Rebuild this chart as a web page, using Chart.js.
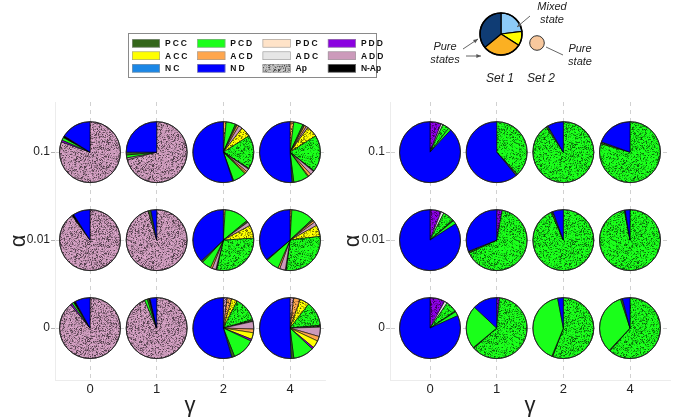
<!DOCTYPE html>
<html><head><meta charset="utf-8">
<script src="https://cdn.jsdelivr.net/npm/chart.js@4.4.1/dist/chart.umd.min.js"></script>
<style>
html,body{margin:0;padding:0;background:#fff;}
#wrap{position:relative;width:675px;height:419px;overflow:hidden;}
canvas{position:absolute;left:0;top:0;}
</style></head><body>
<div id="wrap"><canvas id="c1" width="675" height="419"></canvas><canvas id="c2" width="675" height="419"></canvas></div>
<script>
// ---------- axis labels ----------
const gammaLabels = ['0', '1', '2', '4'];
const alphaLabels = ['0', '0.01', '0.1'];   // bottom -> top

// ---------- slice order (clockwise from 12 o'clock) ----------
const sliceCats = ['PDD','ADD','ACD','PCD','PCC','ACD','ADD','ACC','ADC','PCD','PCC','ADD','ACD','ACC','PDD','PCD','PCC','N-Ap','ND'];
const sliceAp   = [1, 1, 1, 0, 0, 0, 0, 1, 0, 1, 1, 0, 0, 0, 0, 0, 0, 0, 0];

// ---------- legend ----------
const legendLabels = ['PCC','ACC','NC','PCD','ACD','ND','PDC','ADC','Ap','PDD','ADD','N-Ap'];
const catColors = {
  PCC: '#33661a', ACC: '#ffff00', NC: '#1b87e6', PCD: '#1aff1a', ACD: '#ffa64d', ND: '#0000ff',
  PDC: '#ffe3c8', ADC: '#e6e6e6', Ap: '#bdbdbd', PDD: '#8a00e0', ADD: '#cc9abb', 'N-Ap': '#000000'
};

// ---------- Set 1 (left panel), percentages per pie, gamma = 0,1,2,4 ----------
const set1_alpha01 = [
  [0,80.5,0,0,0,0,0,0,0,0,0,0,0,0,1,1.5,0,1,16],
  [0,71,0,0,0,0,0,0,0,0,0,1,0,0,0,1.5,1.5,0,25],
  [0,0,1.5,5,1,1,2,5.5,0,18,0.5,1.5,1,0.5,0,7,0.5,0,55],
  [0,0,2,5,1,1,1,6,0,19.5,0.5,2,1.5,0.5,0,8,1,0,51]
];
const set1_alpha001 = [
  [0,90,0,0,0,0,0,0,0,0,0,0,0,0,0,0,0,1,9],
  [0,95.5,0,0,0,0,0,0,0,0,0,0,0,0,0,0,1.5,0,3],
  [0,0,1,13,1,0,2,7,0,29.5,0.5,2,1,0,0,5,1,0,37],
  [0,0,1,12,1,1,2,6,0,29,0.5,3,1,0,0,7,0.5,0,36]
];
const set1_alpha0 = [
  [0,89,0,0,0,0,0,0,0,0,0,0,0,0,1,1,0,1,8],
  [0,93.5,0,0,0,0,0,0,0,0,0,0,0,0,0,1.5,1,0.5,3.5],
  [0,2,2.5,0,0,0,0,3,0,13,1,4,2,3.5,1,12,1.5,0,54.5],
  [0,2,3.5,0,0,0,0,5,0,13,1,5,2.5,4,1,11,1.5,0,50.5]
];
// ---------- Set 2 (right panel) ----------
const set2_alpha01 = [
  [6,0,0,0,0,0,0,0,1,3.5,0,0,0,0,0,1.5,0,0,88],
  [0,0,0,0,0,0,0,0,0,38,1,0,0,0,0,0,0,0,61],
  [0,0,0,0,0,0,0,0,0,90.5,1,0,0,0,0,0,0,0,8.5],
  [0,0,0,0,0,0,0,0,0,79.5,1,0,0,0,0,0,0,0,19.5]
];
const set2_alpha001 = [
  [6,0,0,0,0,0,0,0,1.5,6,0.5,0,0,0,0,2,0,0,84],
  [3,0,0,0,0,0,0,0,0,65,1,0,0,0,0,0,0,0,31],
  [0,0,0,0,0,0,0,0,0,93.5,1,0,0,0,0,0,0,0,5.5],
  [0,0,0,0,0,0,0,0,0,97,0.5,0,0,0,0,0,0,0,2.5]
];
const set2_alpha0 = [
  [8,0,0,0,0,0,0,0,1.5,6,0.5,0,0,0,0,2.3,0,0,81.7],
  [1.5,0,0,0,0,0,0,0,0,62,0.5,0,0,0,0,23,0,0,13],
  [0,0,0,0,0,0,0,0,0,55.7,0.5,0,0,0,0,40.8,0,0,3],
  [0,0,0,0,0,0,0,0,0,61.5,0.5,0,0,0,0,33,1,0,4]
];

// ---------- inset illustration ----------
const insetSet1 = [23, 11, 30, 36];
const insetColors = ['#8ccaf7', '#ffff00', '#fbb022', '#0f3c74'];

// ---------- speckle (Ap) texture ----------
const patternCache = {};
function speckle(ctx, base) {
  if (patternCache[base]) return patternCache[base];
  const c = document.createElement('canvas'); c.width = c.height = 97;
  const g = c.getContext('2d');
  g.fillStyle = base; g.fillRect(0, 0, 97, 97);
  const img = g.getImageData(0, 0, 97, 97), d = img.data;
  let s = 2463534242;
  const rnd = () => { s ^= s << 13; s >>>= 0; s ^= s >>> 17; s ^= s << 5; s >>>= 0; return s / 4294967296; };
  for (let i = 0; i < d.length; i += 4) {
    const r = rnd();
    let f = 1;
    if (r < 0.2) f = 0.35 + rnd() * 0.3;
    else if (r < 0.45) f = 0.72 + rnd() * 0.15;
    else if (r < 0.55) f = 1.1;
    d[i] = Math.min(255, d[i] * f); d[i+1] = Math.min(255, d[i+1] * f); d[i+2] = Math.min(255, d[i+2] * f);
  }
  g.putImageData(img, 0, 0);
  patternCache[base] = ctx.createPattern(c, 'repeat');
  return patternCache[base];
}

function drawPie(ctx, cx, cy, r, vals) {
  const total = vals.reduce((a, b) => a + b, 0);
  let a = -Math.PI / 2;
  ctx.save();
  ctx.lineJoin = 'round';
  vals.forEach((v, k) => {
    if (v <= 0) return;
    const a1 = a + v / total * Math.PI * 2;
    const col = catColors[sliceCats[k]];
    ctx.beginPath(); ctx.moveTo(cx, cy); ctx.arc(cx, cy, r, a, a1); ctx.closePath();
    ctx.fillStyle = sliceAp[k] ? speckle(ctx, col) : col;
    ctx.fill();
    ctx.strokeStyle = '#000'; ctx.lineWidth = 0.6; ctx.stroke();
    a = a1;
  });
  ctx.beginPath(); ctx.arc(cx, cy, r, 0, Math.PI * 2);
  ctx.strokeStyle = '#222'; ctx.lineWidth = 0.9; ctx.stroke();
  ctx.restore();
}

const piePlugin = {
  id: 'pies',
  afterDatasetsDraw(chart) {
    const ctx = chart.ctx, xs = chart.scales.x;
    const r = 0.457 * Math.abs(xs.getPixelForValue(1) - xs.getPixelForValue(0));
    chart.data.datasets.forEach((ds, di) => {
      chart.getDatasetMeta(di).data.forEach((pt, i) => drawPie(ctx, pt.x, pt.y, r, ds.pies[i]));
    });
  }
};

function arrow(ctx, x0, y0, x1, y1, head) {
  ctx.beginPath(); ctx.moveTo(x0, y0); ctx.lineTo(x1, y1); ctx.stroke();
  if (!head) return;
  const ang = Math.atan2(y1 - y0, x1 - x0), h = 5;
  ctx.beginPath();
  ctx.moveTo(x1, y1);
  ctx.lineTo(x1 - h * Math.cos(ang - 0.4), y1 - h * Math.sin(ang - 0.4));
  ctx.lineTo(x1 - h * Math.cos(ang + 0.4), y1 - h * Math.sin(ang + 0.4));
  ctx.closePath(); ctx.fill();
}

const decorPlugin = {
  id: 'decor',
  afterDraw(chart) {
    const ctx = chart.ctx;
    ctx.save();
    // legend box
    ctx.strokeStyle = '#8a8a8a'; ctx.lineWidth = 1;
    ctx.strokeRect(128.5, 33.5, 248, 44);
    legendLabels.forEach((lab, i) => {
      const col = Math.floor(i / 3), row = i % 3;
      const sx = 132 + col * 65.3, sy = 39 + row * 12.5;
      const c = catColors[lab];
      ctx.fillStyle = lab === 'Ap' ? speckle(ctx, c) : c;
      ctx.fillRect(sx, sy, 28, 8.5);
      ctx.strokeStyle = '#9a9a9a'; ctx.lineWidth = 0.6;
      ctx.strokeRect(sx + 0.3, sy + 0.3, 27.4, 7.9);
      ctx.fillStyle = '#111';
      ctx.font = 'bold 8.5px "Liberation Sans", Arial, sans-serif';
      ctx.textBaseline = 'middle'; ctx.textAlign = 'left';
      ctx.letterSpacing = (lab === 'Ap' || lab === 'N-Ap') ? '0px' : '2px';
      ctx.fillText(lab, sx + 33, sy + 4.7);
    });
    ctx.letterSpacing = '0px';
    // inset: Set 1 pie
    const cx = 501, cy = 34, r = 21;
    const tot = insetSet1.reduce((a, b) => a + b, 0);
    let a = -Math.PI / 2;
    insetSet1.forEach((v, k) => {
      const a1 = a + v / tot * Math.PI * 2;
      ctx.beginPath(); ctx.moveTo(cx, cy); ctx.arc(cx, cy, r, a, a1); ctx.closePath();
      ctx.fillStyle = insetColors[k]; ctx.fill();
      ctx.strokeStyle = '#000'; ctx.lineWidth = 1.2; ctx.stroke();
      a = a1;
    });
    ctx.beginPath(); ctx.arc(cx, cy, r, 0, Math.PI * 2); ctx.lineWidth = 1.5; ctx.stroke();
    // Set 2 circle
    ctx.beginPath(); ctx.arc(537, 43, 7.3, 0, Math.PI * 2);
    ctx.fillStyle = '#f8c89d'; ctx.fill(); ctx.strokeStyle = '#333'; ctx.lineWidth = 1; ctx.stroke();
    // arrows
    ctx.strokeStyle = '#555'; ctx.fillStyle = '#555'; ctx.lineWidth = 0.9;
    arrow(ctx, 530, 16, 517, 27, true);
    arrow(ctx, 463, 49, 478, 39, true);
    arrow(ctx, 466, 56, 481, 56, true);
    arrow(ctx, 546, 47, 563, 55, false);
    // inset texts
    ctx.fillStyle = '#222'; ctx.textAlign = 'center'; ctx.textBaseline = 'middle';
    ctx.font = 'italic 11px "Liberation Sans", Arial, sans-serif';
    ctx.fillText('Mixed', 552, 7); ctx.fillText('state', 552, 20);
    ctx.fillText('Pure', 445, 47); ctx.fillText('states', 445, 60);
    ctx.fillText('Pure', 580, 49); ctx.fillText('state', 580, 62);
    ctx.font = 'italic 12px "Liberation Sans", Arial, sans-serif';
    ctx.fillText('Set 1', 500, 79); ctx.fillText('Set 2', 541, 79);
    ctx.restore();
  }
};

function buildData(rows) {
  const points = [], pies = [];
  rows.forEach((row, ai) => row.forEach((vals, gi) => { points.push({ x: gi, y: ai }); pies.push(vals); }));
  return { datasets: [{ data: points, pies: pies, pointRadius: 0, pointHoverRadius: 0, showLine: false }] };
}

function makeChart(id, rows, o, extraPlugins) {
  return new Chart(document.getElementById(id), {
    type: 'scatter',
    data: buildData(rows),
    options: {
      responsive: false, animation: false, devicePixelRatio: 1, events: [],
      layout: { padding: { left: o.padLeft, right: o.padRight, top: 102, bottom: 0 } },
      plugins: { legend: { display: false }, tooltip: { enabled: false } },
      scales: {
        x: {
          type: 'linear', min: o.xmin, max: o.xmax,
          afterBuildTicks: s => { s.ticks = gammaLabels.map((_, i) => ({ value: i })); },
          afterFit: s => { s.height = 39; },
          ticks: { callback: v => gammaLabels[v], font: { family: '"Liberation Sans", Arial, sans-serif', size: 13 }, color: '#222', padding: 2, maxRotation: 0, autoSkip: false },
          grid: { color: '#cccccc', lineWidth: 0.9, drawTicks: false },
          border: { display: true, color: '#ececec', dash: [4, 4] },
          title: { display: true, text: 'γ', font: { family: '"Liberation Sans", Arial, sans-serif', size: 22 }, color: '#222', padding: 0 }
        },
        y: {
          type: 'linear', min: -0.59, max: 2.57,
          afterBuildTicks: s => { s.ticks = alphaLabels.map((_, i) => ({ value: i })); },
          afterFit: s => { s.width = o.yWidth; },
          ticks: { callback: v => alphaLabels[v], font: { family: '"Liberation Sans", Arial, sans-serif', size: 12 }, color: '#222', padding: 1 },
          grid: { color: '#cccccc', lineWidth: 0.9, drawTicks: true, tickLength: 4, tickColor: '#aaaaaa', tickBorderDash: [] },
          border: { display: true, color: '#ececec', dash: [4, 4] },
          title: { display: true, text: 'α', font: { family: '"Liberation Sans", Arial, sans-serif', size: 22 }, color: '#222', padding: { top: o.titlePad, bottom: 0 } }
        }
      }
    },
    plugins: [piePlugin].concat(extraPlugins)
  });
}

makeChart('c1', [set1_alpha0, set1_alpha001, set1_alpha01],
  { padLeft: 0, padRight: 350, yWidth: 55, xmin: -0.525, xmax: 3.525, titlePad: 6 }, [decorPlugin]);
makeChart('c2', [set2_alpha0, set2_alpha001, set2_alpha01],
  { padLeft: 340, padRight: 5, yWidth: 50, xmin: -0.6, xmax: 3.6, titlePad: 0 }, []);
</script>
</body></html>
